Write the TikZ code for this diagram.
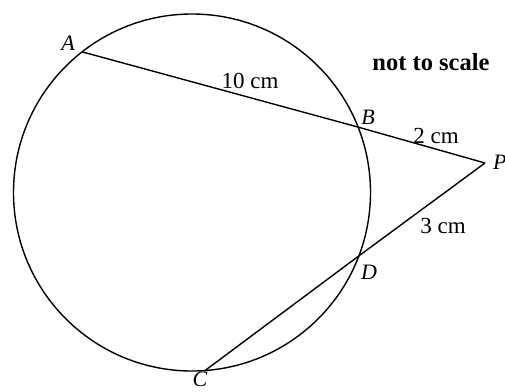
\documentclass[tikz,border=0pt]{standalone}
\usepackage{fontspec}
\setmainfont{Liberation Serif}
\usetikzlibrary{calc}

\begin{document}
\begin{tikzpicture}[x=1pt,y=-1pt,line width=1.4pt,
  pointlabel/.style={font=\fontsize{22}{25}\selectfont\itshape},
  lengthlabel/.style={font=\fontsize{23}{26}\selectfont}]
\useasboundingbox (0,0) rectangle (505,391);

\coordinate (O) at (192,192.5);
\coordinate (A) at ($(O)+(-128:178.5)$);
\coordinate (B) at ($(O)+(-21.5:178.5)$);
\coordinate (D) at ($(O)+(20.8:178.5)$);
\coordinate (C) at ($(O)+(85.8:178.5)$);
\coordinate (P) at (485,163);

\draw (O) circle (178.5);

\draw (A) -- (B) -- (P);
\draw (C) -- (D) -- (P);

\node[pointlabel] (lA) at (68,43) {A};
\node[pointlabel] (lB) at (368,117) {B};
\node[pointlabel] (lD) at (369,272) {D};
\node[pointlabel,inner sep=1pt] (lC) at (200,379) {C};
\node[pointlabel,anchor=west] (lP) at (489,162) {P};

\node[lengthlabel] (l10) at (250,81) {10 cm};
\node[lengthlabel] (l2) at (436,136) {2 cm};
\node[lengthlabel] (l3) at (443,226) {3 cm};
\node[font=\fontsize{24.5}{28}\selectfont\bfseries] (note) at (431,62) {not to scale};
\end{tikzpicture}
\end{document}
